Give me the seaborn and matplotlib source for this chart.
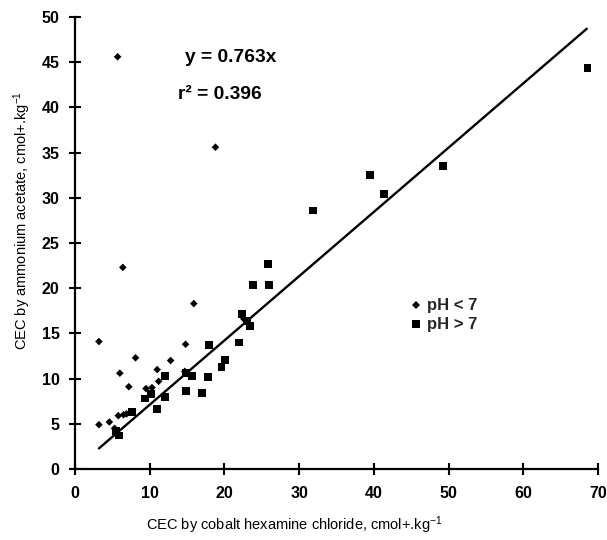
import matplotlib
matplotlib.use("Agg")
import matplotlib.pyplot as plt
import seaborn as sns
import pandas as pd

# ---- data ----
acid_x = [5.7, 18.8, 6.4, 15.9, 3.2, 8.1, 6.0, 14.8, 12.8, 11.0, 7.2, 9.5, 10.3,
          11.2, 3.2, 4.6, 5.8, 6.5, 6.9, 5.3, 14.7, 22.6]
acid_y = [45.6, 35.6, 22.3, 18.3, 14.1, 12.3, 10.6, 13.8, 12.0, 11.0, 9.1, 8.9, 9.0,
          9.7, 4.9, 5.2, 5.9, 6.0, 6.1, 4.5, 10.8, 16.6]

alk_x = [68.6, 49.2, 39.5, 41.4, 31.8, 25.8, 23.8, 26.0, 22.4, 23.0, 23.4, 22.0,
         17.9, 20.1, 19.6, 15.7, 17.8, 14.8, 17.0, 12.1, 12.1, 11.0, 7.6, 9.4,
         10.2, 5.9, 5.5, 14.8]
alk_y = [44.4, 33.5, 32.5, 30.4, 28.6, 22.7, 20.4, 20.4, 17.1, 16.4, 15.8, 14.0,
         13.7, 12.1, 11.3, 10.3, 10.2, 8.6, 8.4, 10.3, 8.0, 6.6, 6.3, 7.8,
         8.3, 3.7, 4.2, 10.6]

groups = ["pH < 7", "pH > 7"]
fit_x = [3.2, 68.5]
fit_slope = 0.711
eq_text = "y = 0.763x"
r2_text = "r\u00b2 = 0.396"
x_ticks = [0, 10, 20, 30, 40, 50, 60, 70]
y_ticks = [0, 5, 10, 15, 20, 25, 30, 35, 40, 45, 50]
x_label = "CEC by cobalt hexamine chloride, cmol+.kg$^{-1}$"
y_label = "CEC by ammonium acetate, cmol+.kg$^{-1}$"

# ---- build frames ----
df = pd.DataFrame({
    "x": acid_x + alk_x,
    "y": acid_y + alk_y,
    "group": [groups[0]] * len(acid_x) + [groups[1]] * len(alk_x),
})
fit_df = pd.DataFrame({"x": fit_x, "y": [fit_slope * v for v in fit_x]})

sns.set_theme(style="ticks")
plt.rcParams["font.family"] = ["Liberation Sans", "DejaVu Sans"]
plt.rcParams["mathtext.fontset"] = "custom"
plt.rcParams["mathtext.rm"] = "Liberation Sans"
plt.rcParams["mathtext.it"] = "Liberation Sans"
plt.rcParams["mathtext.bf"] = "Liberation Sans:bold"

fig = plt.figure(figsize=(6.07, 5.40), dpi=100)
ax = fig.add_axes([75 / 607, (540 - 469) / 540, (598 - 75) / 607, (469 - 17) / 540])

sns.lineplot(data=fit_df, x="x", y="y", color="black", linewidth=1.7, ax=ax,
             legend=False)
sns.scatterplot(data=df, x="x", y="y", hue="group", style="group",
                palette={groups[0]: "black", groups[1]: "black"},
                markers={groups[0]: "D", groups[1]: "s"},
                size="group", sizes={groups[0]: 15, groups[1]: 32},
                edgecolor="none", linewidth=0, ax=ax, zorder=3)

ax.set_xlim(0, 70)
ax.set_ylim(0, 50)
ax.set_xticks(x_ticks)
ax.set_yticks(y_ticks)
for sp in ["top", "right"]:
    ax.spines[sp].set_visible(False)
for sp in ["left", "bottom"]:
    ax.spines[sp].set_linewidth(1.6)
    ax.spines[sp].set_color("black")
ax.tick_params(axis="both", direction="inout", length=8, width=1.5,
               colors="black", labelsize=11.5)
ax.tick_params(axis="x", pad=8)
ax.tick_params(axis="y", pad=7)
for lab in ax.get_xticklabels() + ax.get_yticklabels():
    lab.set_fontweight("bold")

ax.set_xlabel(x_label, fontsize=10.5, color="black")
ax.set_ylabel(y_label, fontsize=10.5, color="black")
ax.xaxis.set_label_coords(0.42, -0.10)
ax.yaxis.set_label_coords(-0.08, 0.549)

ax.text(14.7, 45.5, eq_text, fontsize=13.8, fontweight="bold", va="center",
        ha="left", color="black")
ax.text(13.8, 41.4, r2_text, fontsize=13.8, fontweight="bold", va="center",
        ha="left", color="black")

leg = ax.legend(frameon=False, loc="upper left",
                bbox_to_anchor=(402 / 607, 1 - 290 / 540),
                bbox_transform=fig.transFigure, handlelength=0.7,
                handletextpad=0.3, labelspacing=0.25, borderpad=0,
                prop={"size": 12, "weight": "bold"})

fig.savefig("out.png", dpi=100)
